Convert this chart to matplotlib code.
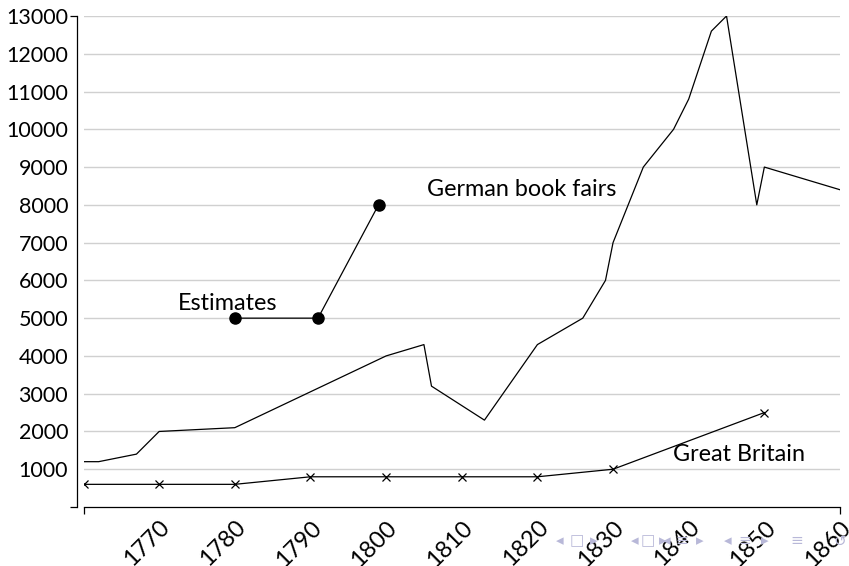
import matplotlib.pyplot as plt
from matplotlib.ticker import FixedLocator

# German book fairs (no markers)
fair_years = [1760, 1762, 1767, 1770, 1780, 1800, 1805, 1806, 1813, 1820, 1826,
              1829, 1830, 1834, 1838, 1840, 1843, 1845, 1849, 1850, 1860]
fair_titles = [1200, 1200, 1400, 2000, 2100, 4000, 4300, 3200, 2300, 4300, 5000,
               6000, 7000, 9000, 10000, 10800, 12600, 13000, 8000, 9000, 8400]

# Estimates (filled dots)
est_years = [1780, 1791, 1799]
est_titles = [5000, 5000, 8000]

# Great Britain (x markers)
gb_years = [1760, 1770, 1780, 1790, 1800, 1810, 1820, 1830, 1850]
gb_titles = [600, 600, 600, 800, 800, 800, 800, 1000, 2500]

x_ticks = list(range(1770, 1861, 10))
y_ticks = list(range(0, 13001, 1000))

plt.rcParams['font.family'] = ['Lato', 'DejaVu Sans']

fig = plt.figure(figsize=(8.49, 5.66), dpi=100)
ax = fig.add_axes([83.5 / 849, 59 / 566, (840 - 83.5) / 849, (507 - 16) / 566])

ax.plot(fair_years, fair_titles, color='black', lw=0.9)
ax.plot(est_years, est_titles, color='black', lw=0.9, marker='o', ms=8)
ax.plot(gb_years, gb_titles, color='black', lw=0.9, marker='x', ms=6, mew=0.9)

ax.text(1779.1, 5400, 'Estimates', fontsize=16.8, ha='center', va='center')
ax.text(1817.9, 8400, 'German book fairs', fontsize=16.8, ha='center', va='center')
ax.text(1846.7, 1380, 'Great Britain', fontsize=16.8, ha='center', va='center')

ax.set_xlim(1760, 1860)
ax.set_ylim(0, 13000)

# grid lines
for v in y_ticks[1:]:
    ax.axhline(v, color='#d0d0d0', lw=1.0, zorder=0)

ax.spines['top'].set_visible(False)
ax.spines['right'].set_visible(False)
ax.spines['left'].set_position(('outward', 5))
ax.spines['left'].set_linewidth(0.9)
ax.spines['bottom'].set_linewidth(0.9)

ax.set_yticks(y_ticks)
ax.set_yticklabels([''] + [str(v) for v in y_ticks[1:]])
ax.set_xticks(x_ticks)
ax.set_xticklabels([str(v) for v in x_ticks], rotation=45, ha='right', va='top',
                   rotation_mode='anchor')
ax.tick_params(axis='both', which='major', length=0)
ax.tick_params(axis='y', which='major', pad=6, labelsize=15.5)
ax.tick_params(axis='x', which='major', pad=7, labelsize=17)

# end ticks only
ax.xaxis.remove_overlapping_locs = False
ax.yaxis.remove_overlapping_locs = False
ax.xaxis.set_minor_locator(FixedLocator([1760, 1860]))
ax.yaxis.set_minor_locator(FixedLocator([0, 13000]))
ax.tick_params(axis='both', which='minor', length=5, width=0.9, direction='out')

# beamer navigation symbols
nav = [(560, '◂'), (577, '□'), (594, '▸'), (635, '◂'), (648, '□'), (663, '▸'),
       (667, '◂'), (682, '≡'), (700, '▸'), (728, '◂'), (745, '≡'), (765, '▸'),
       (797, '≡'), (840, '↺')]
for px, s in nav:
    fig.text(px / 849, 1 - 541 / 566, s, color='#b8b8d8', fontsize=11,
             ha='center', va='center', family='DejaVu Sans')

fig.savefig('out.png', dpi=100)
